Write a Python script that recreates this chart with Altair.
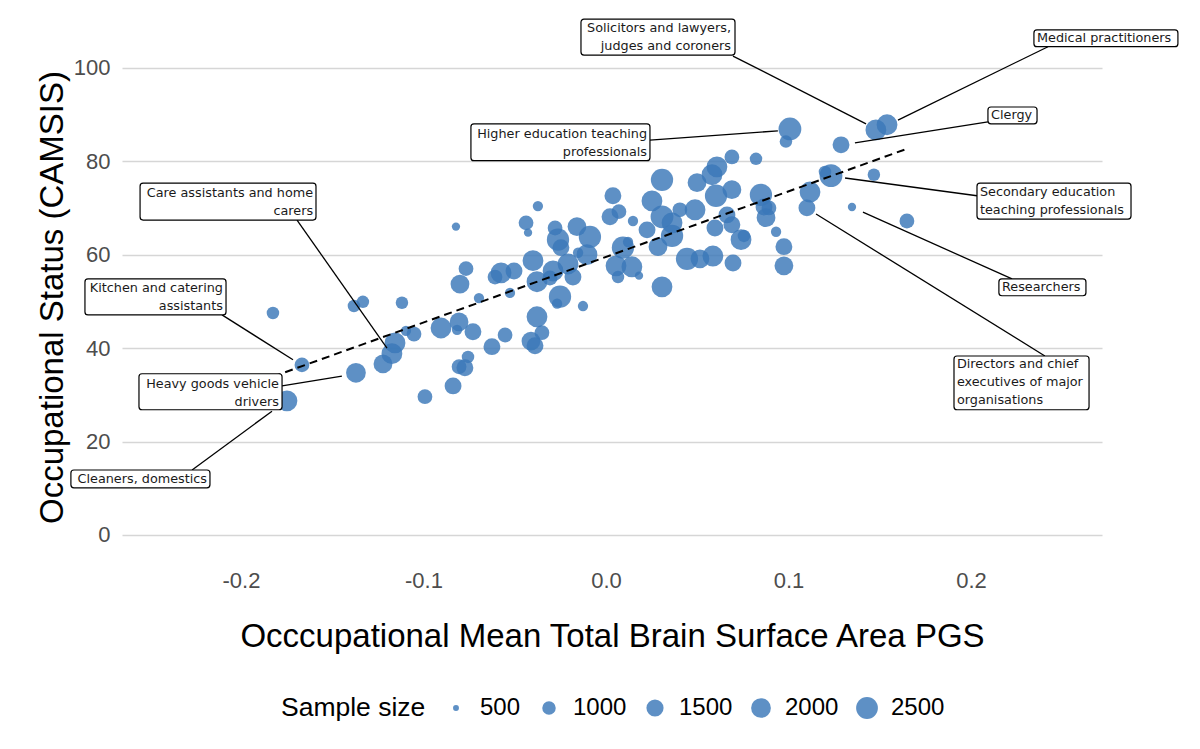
import altair as alt
import pandas as pd

# ---- data ----
pgs = [-0.1825, -0.1666, -0.1748, -0.1370, -0.1381, -0.1332, -0.1222, -0.1156, -0.1173, -0.1118,
       -0.1096, -0.1052, -0.0904, -0.0805, -0.0816, -0.0729, -0.0696, -0.0625, -0.0756, -0.0805,
       -0.0773, -0.0838, -0.0992, -0.0553, -0.0411, -0.0389, -0.0351, -0.0378, -0.0822, -0.0767,
       -0.0800, -0.0526, -0.0608, -0.0575, -0.0504, -0.0438, -0.0427, -0.0373, -0.0400, -0.0378,
       -0.0290, -0.0307, -0.0208, -0.0181, -0.0252, -0.0268, -0.0126, -0.0279, -0.0263, -0.0247,
       -0.0159, -0.0088, -0.0104, -0.0153, 0.0038, 0.0071, 0.0022, 0.0148, 0.0093, 0.0121,
       0.0055, 0.0142, 0.0066, 0.0181, 0.0252, 0.0307, 0.0225, 0.0285, 0.0362, 0.0307,
       0.0307, 0.0362, 0.0405, 0.0488, 0.0444, 0.0515, 0.0586, 0.0696, 0.0499, 0.0581,
       0.0608, 0.0603, 0.0690, 0.0690, 0.0822, 0.0597, 0.0663, 0.0690, 0.0740, 0.0756,
       0.0849, 0.0866, 0.0893, 0.0877, 0.0932, 0.0975, 0.0975, 0.1008, 0.0986, 0.1288,
       0.1479, 0.1540, 0.1233, 0.1200, 0.1118, 0.1101, 0.1468, 0.1348, 0.1649]
camsis = [47.5, 36.4, 28.7, 34.7, 49.0, 49.9, 36.6, 41.1, 38.8, 49.7,
          43.7, 43.0, 44.3, 45.6, 43.9, 43.5, 50.7, 40.3, 38.1, 36.0,
          35.8, 31.9, 29.6, 42.8, 41.5, 40.5, 43.3, 46.7, 66.0, 57.0,
          53.7, 51.8, 55.2, 56.1, 56.5, 66.8, 64.7, 70.4, 58.7, 54.2,
          56.5, 55.0, 58.0, 55.2, 51.0, 49.5, 49.0, 65.7, 63.2, 61.5,
          66.0, 63.8, 60.0, 60.4, 72.6, 69.2, 68.1, 67.2, 61.5, 62.7,
          57.6, 57.4, 55.2, 55.5, 71.5, 68.1, 65.3, 61.7, 64.0, 53.1,
          76.0, 66.8, 69.6, 69.6, 59.1, 59.1, 59.7, 58.2, 75.4, 77.1,
          78.8, 72.6, 73.9, 80.9, 80.5, 65.7, 68.5, 66.4, 63.2, 64.0,
          72.8, 70.2, 70.0, 67.9, 64.9, 61.7, 57.6, 86.9, 84.2, 83.5,
          86.7, 87.8, 76.9, 77.7, 73.4, 70.0, 77.1, 70.2, 67.2]
sample_size = [900, 1150, 2250, 2000, 900, 900, 1800, 2250, 2250, 900,
               720, 1150, 2250, 1800, 720, 1450, 720, 1450, 900, 1150,
               1450, 1450, 1150, 1150, 1800, 1450, 1150, 2250, 600, 1150,
               1800, 720, 1150, 2250, 1450, 1150, 600, 720, 2250, 2250,
               2250, 1150, 2250, 1450, 2650, 720, 720, 1150, 2650, 1450,
               1800, 2650, 2250, 720, 1450, 1150, 1450, 720, 2650, 720,
               2250, 2250, 900, 600, 2250, 2800, 1450, 1800, 2650, 2250,
               2650, 2250, 1150, 2250, 2650, 1800, 2250, 1450, 1800, 2250,
               2250, 2650, 1800, 1150, 900, 1450, 1450, 1450, 2250, 900,
               2650, 1450, 1150, 1800, 720, 1450, 1800, 2800, 900, 1450,
               2250, 2250, 2800, 900, 2250, 1450, 900, 600, 1150]

# ---- labelled occupations (label box, first-line anchor, connector) ----
lab_text = ["Solicitors and lawyers,\njudges and coroners", "Medical practitioners", "Clergy",
            "Higher education teaching\nprofessionals", "Secondary education\nteaching professionals",
            "Researchers", "Directors and chief\nexecutives of major\norganisations",
            "Care assistants and home\ncarers", "Kitchen and catering\nassistants",
            "Heavy goods vehicle\ndrivers", "Cleaners, domestics"]
lab_side = ["right", "left", "left", "right", "left", "left", "left", "right", "right", "right", "right"]
lab_x = [0.0685, 0.2362, 0.2110, 0.0225, 0.2049, 0.2170, 0.1923, -0.1605, -0.2099, -0.1792, -0.2186]
lab_y = [108.4, 106.3, 89.8, 85.8, 73.4, 53.0, 36.6, 73.2, 52.9, 32.3, 12.0]
box_x1 = [-0.0137, 0.2345, 0.2093, -0.0740, 0.2033, 0.2153, 0.1907, -0.2553, -0.2855, -0.2559, -0.2932]
box_x2 = [0.0707, 0.3134, 0.2362, 0.0241, 0.2877, 0.2630, 0.2647, -0.1589, -0.2082, -0.1775, -0.2170]
box_y1 = [102.7, 104.5, 88.0, 80.1, 67.6, 51.2, 26.8, 67.4, 47.1, 26.8, 10.1]
box_y2 = [110.4, 108.1, 91.6, 88.0, 75.3, 54.8, 38.3, 75.3, 54.8, 34.5, 13.9]
seg_x1 = [0.0696, 0.2422, 0.2093, 0.0241, 0.2033, 0.2225, 0.2405, -0.1693, -0.2104, -0.1775, -0.2268]
seg_y1 = [102.5, 104.5, 88.4, 84.5, 72.6, 54.8, 38.3, 67.4, 47.1, 31.9, 13.9]
seg_x2 = [0.1425, 0.1600, 0.1364, 0.0942, 0.1310, 0.1408, 0.1151, -0.1200, -0.1715, -0.1447, -0.1830]
seg_y2 = [88.0, 88.8, 83.9, 86.5, 76.4, 69.1, 68.7, 40.0, 37.5, 34.0, 26.5]

x_ticks = [-0.2, -0.1, 0.0, 0.1, 0.2]
y_ticks = [0, 20, 40, 60, 80, 100]
legend_values = [500, 1000, 1500, 2000, 2500]

XTITLE = "Occcupational Mean Total Brain Surface Area PGS"
YTITLE = "Occupational Status (CAMSIS)"

df = pd.DataFrame({"pgs": pgs, "camsis": camsis, "n": sample_size})
ann = pd.DataFrame({"text": lab_text, "side": lab_side, "lx": lab_x, "ly": lab_y,
                    "bx1": box_x1, "bx2": box_x2, "by1": box_y1, "by2": box_y2,
                    "sx1": seg_x1, "sy1": seg_y1, "sx2": seg_x2, "sy2": seg_y2})

xscale = alt.Scale(domain=[-0.2652, 0.2718], nice=False, zero=False)
yscale = alt.Scale(domain=[-6, 113], nice=False, zero=False)

xaxis = alt.Axis(values=x_ticks, grid=False, domain=False, ticks=False,
                 labelExpr="replace(format(datum.value, '.1f'), '\u2212', '-')",
                 labelFontSize=22, labelColor="#4d4d4d", labelFont="Liberation Sans",
                 labelPadding=7, title=XTITLE, titleFontSize=33, titleFont="Liberation Sans",
                 titleFontWeight="normal", titleColor="black", titleX=490, titleY=73,
                 titleBaseline="middle", titleAnchor="middle")
yaxis = alt.Axis(values=y_ticks, grid=True, gridColor="#d6d6d6", gridWidth=1.6,
                 domain=False, ticks=False, labelFontSize=22, labelColor="#4d4d4d",
                 labelFont="Liberation Sans", labelPadding=12, title=YTITLE,
                 titleFontSize=33, titleFont="Liberation Sans", titleFontWeight="normal",
                 titleColor="black", titleX=-70, titleY=290, titleBaseline="middle",
                 titleAnchor="middle")

POINT = "#3a78b8"

points = alt.Chart(df).mark_circle(color=POINT, opacity=0.82).encode(
    x=alt.X("pgs:Q", scale=xscale, axis=xaxis, title=XTITLE),
    y=alt.Y("camsis:Q", scale=yscale, axis=yaxis, title=YTITLE),
    size=alt.Size("n:Q",
                  scale=alt.Scale(type="sqrt", domain=[450, 2800], range=[17, 520], zero=False),
                  legend=alt.Legend(title="Sample size", orient="none", legendX=159, legendY=689,
                                    direction="horizontal", titleOrient="left",
                                    titleFontSize=26.5, titleFont="Liberation Sans",
                                    titleFontWeight="normal", titleColor="black",
                                    titleBaseline="middle", titlePadding=18,
                                    labelFontSize=24, labelFont="Liberation Sans",
                                    labelColor="black", values=legend_values, format="d",
                                    symbolFillColor=POINT, symbolOpacity=0.82,
                                    symbolStrokeWidth=0, symbolType="circle",
                                    columnPadding=16, labelOffset=12)),
)

trend = alt.Chart(df).transform_regression("pgs", "camsis").mark_line(
    color="black", strokeDash=[8, 5], strokeWidth=2
).encode(x=alt.X("pgs:Q", title=XTITLE), y=alt.Y("camsis:Q", title=YTITLE))

segs = alt.Chart(ann).mark_rule(color="black", strokeWidth=1.3).encode(
    x=alt.X("sx1:Q", title=XTITLE), y=alt.Y("sy1:Q", title=YTITLE), x2="sx2:Q", y2="sy2:Q")

boxes = alt.Chart(ann).mark_rect(fill="white", stroke="black", strokeWidth=1.2,
                                 cornerRadius=3).encode(
    x=alt.X("bx1:Q", title=XTITLE), x2="bx2:Q", y=alt.Y("by1:Q", title=YTITLE), y2="by2:Q")

txt_common = dict(baseline="middle", font="DejaVu Sans", fontSize=12.8,
                  lineBreak="\n", lineHeight=18, color="#1a1a1a")
txt_right = alt.Chart(ann).transform_filter(alt.datum.side == "right").mark_text(
    align="right", **txt_common).encode(
    x=alt.X("lx:Q", title=XTITLE), y=alt.Y("ly:Q", title=YTITLE), text="text:N")
txt_left = alt.Chart(ann).transform_filter(alt.datum.side == "left").mark_text(
    align="left", **txt_common).encode(
    x=alt.X("lx:Q", title=XTITLE), y=alt.Y("ly:Q", title=YTITLE), text="text:N")

chart = alt.layer(points, trend, segs, boxes, txt_right, txt_left).properties(
    width=980, height=556,
    padding={"left": 122, "top": 7, "right": 98, "bottom": 186},
    autosize=alt.AutoSizeParams(type="none"),
    background="white",
).configure_view(stroke=None)

chart.save("out.html", embed_options={"renderer": "svg", "actions": False})
